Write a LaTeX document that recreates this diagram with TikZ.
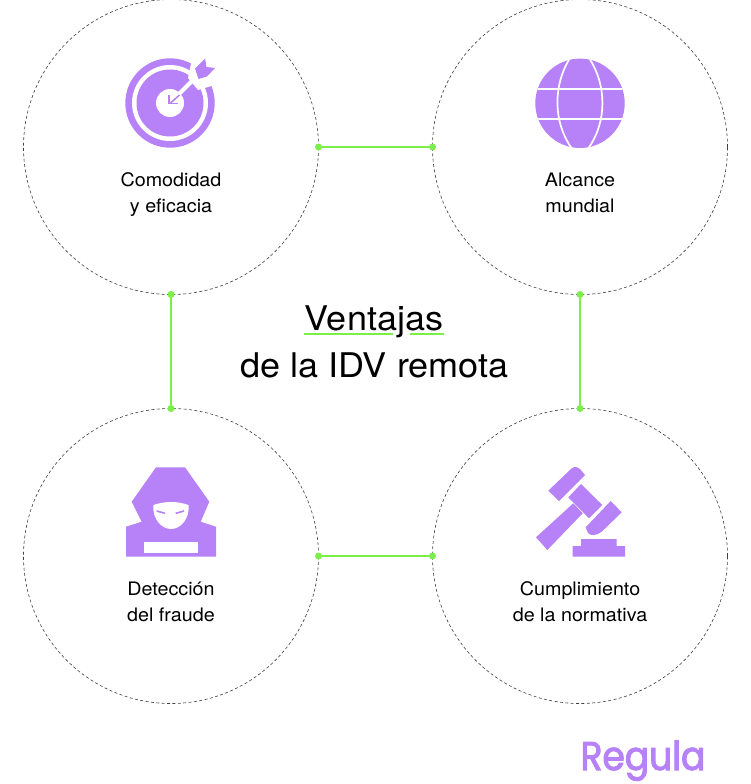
\documentclass[tikz,border=0pt]{standalone}
\usepackage{fontspec}
\setmainfont[FakeStretch=1.06]{TeX Gyre Heros}
\newfontfamily\logofont[FakeStretch=0.9,FakeBold=2.6]{Poppins}
\definecolor{regpurple}{HTML}{B782F8}
\definecolor{reggreen}{HTML}{7BEE4A}
\tikzset{
  benefit/.style={circle,draw=black!75,line width=0.6pt,dash pattern=on 3pt off 2.4pt,minimum size=295pt,inner sep=0pt,outer sep=0pt},
  greendot/.style={circle,fill=reggreen,minimum size=7pt,inner sep=0pt},
  link/.style={draw=reggreen,line width=1.3pt},
  caption/.style={anchor=base,align=center,font=\fontsize{18.6}{20}\selectfont,inner sep=0pt},
  headline/.style={anchor=base,font=\fontsize{34}{36}\selectfont,inner sep=0pt},
  iconfill/.style={fill=regpurple,draw=none},
  iconcut/.style={draw=white,line width=1.7pt}
}
\begin{document}
\begin{tikzpicture}[x=1pt,y=-1pt]
      \useasboundingbox (0,0) rectangle (750,784);
      \fill[white] (0,0) rectangle (750,784);

      \node[benefit] (cmd) at (171,147) {};
      \node[benefit] (alc) at (580,147) {};
      \node[benefit] (det) at (171,556) {};
      \node[benefit] (cum) at (580,556) {};

      \node[greendot] (cmdr) at (cmd.east) {};
      \node[greendot] (alcl) at (alc.west) {};
      \node[greendot] (cmdb) at (cmd.south) {};
      \node[greendot] (dett) at (det.north) {};
      \node[greendot] (alcb) at (alc.south) {};
      \node[greendot] (cumt) at (cum.north) {};
      \node[greendot] (detr) at (det.east) {};
      \node[greendot] (cuml) at (cum.west) {};

      \draw[link] (cmdr) -- (alcl);
      \draw[link] (cmdb) -- (dett);
      \draw[link] (alcb) -- (cumt);
      \draw[link] (detr) -- (cuml);

      \node[caption] (cmd1) at (171,186) {Comodidad};
      \node[caption] (cmd2) at (171,212) {y eficacia};
      \node[caption] (alc1) at (580,186.5) {Alcance};
      \node[caption] (alc2) at (580,212.5) {mundial};
      \node[caption] (det1) at (171,595) {Detección};
      \node[caption] (det2) at (171,621) {del fraude};
      \node[caption] (cum1) at (580,595) {Cumplimiento};
      \node[caption] (cum2) at (580,621) {de la normativa};

      % title
      \fill[reggreen] (304,332.5) rectangle (393,334.5);
      \fill[reggreen] (410,332.5) rectangle (444,334.5);
      \node[headline] (title1) at (374,330) {Ventajas};
      \node[headline] (title2) at (374.5,377) {de la IDV remota};

      % target
      \fill[iconfill] (170,103) circle (44.7);
      \fill[white] (170,103) circle (38);
      \fill[iconfill] (170,103) circle (33.5);
      \fill[white] (170,103) circle (14);
      \fill[white] (192,59) -- (218,59) -- (218,84) -- (198,90) -- (188,78) -- cycle;
      \draw[white,line width=4pt] (176,97) -- (198,75);
      \fill[iconfill] (205,58.5) -- (206.5,67) -- (215,68) -- (207,76.5) -- (198.5,79) -- (195,68.5) -- cycle;
      \draw[regpurple,line width=1.5pt] (179.5,95) -- (170,103.5);
      \draw[regpurple,line width=1.5pt] (169,95) -- (169,103.5) -- (178,103.5);

      % globe
      \fill[iconfill] (580,103.3) circle (44.7);
      \begin{scope}
        \clip (580,103.3) circle (44.7);
        \draw[iconcut] (530,89) -- (630,89);
        \draw[iconcut] (530,119) -- (630,119);
        \draw[iconcut] (570,58) .. controls (553,85) and (553,122) .. (571.5,148);
        \draw[iconcut] (589,58) .. controls (607,85) and (607,122) .. (588.5,148);
      \end{scope}

      % hacker
      \fill[iconfill] (156,467.3) -- (185,467.3) -- (209.3,501.7) -- (200.7,521.7) -- (216,526.7)
        -- (216,556.7) -- (126,556.7) -- (126,526.7) -- (141.7,521.7) -- (131.7,501.7) -- cycle;
      \fill[white] (153.5,505) .. controls (165,501) and (177,501) .. (188.5,505)
        .. controls (190,518) and (181,529) .. (171,529) .. controls (161,529) and (152,518) .. (153.5,505) -- cycle;
      \draw[regpurple,line width=1.6pt] (156.7,511) -- (165,513.3);
      \draw[regpurple,line width=1.6pt] (184,511) -- (175.7,513.3);
      \fill[white] (144,541.7) rectangle (198.3,552.7);

      % gavel
      \fill[iconfill] (548.3,490.7) -- (571.7,468.3) .. controls (575,466) and (578,467) .. (580,469)
        -- (585,475) -- (559,501) -- cycle;
      \fill[iconfill] (568.3,497.3) -- (581,484) -- (602.3,505) -- (589,518.3) -- cycle;
      \fill[iconfill] (536,537.3) -- (573.3,503.3) -- (582.7,513.3) -- (547.3,550) -- cycle;
      \fill[iconfill] (585.7,527.3) -- (610.7,501) -- (621.7,512.3) -- (601.7,531.7)
        .. controls (596,536) and (591,536) .. (588,533) -- cycle;
      \fill[iconfill] (581,539) -- (616.7,539) -- (616.7,546) -- (625,546) -- (625,556.7)
        -- (572.7,556.7) -- (572.7,546) -- (581,546) -- cycle;

      % logo
      \node[anchor=base,inner sep=0pt,text=regpurple,font=\logofont\fontsize{40}{44}\selectfont] (logo) at (643,770) {Regula};
\end{tikzpicture}
\end{document}
